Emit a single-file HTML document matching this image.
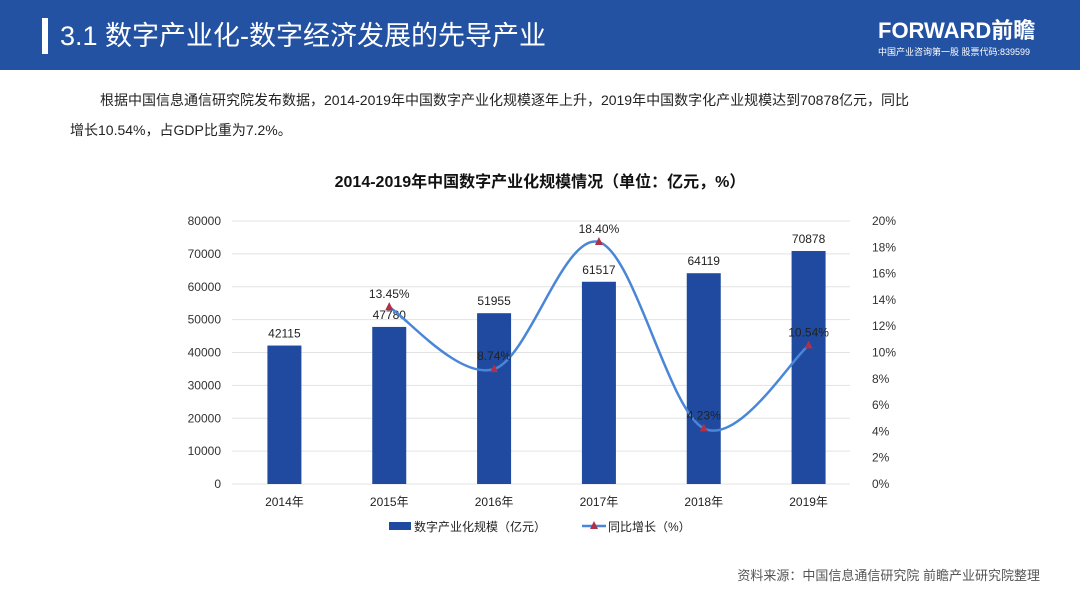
<!DOCTYPE html>
<html><head><meta charset="utf-8"><style>
body{margin:0;width:1080px;height:607px;background:#fff;font-family:"Liberation Sans","Noto Sans CJK SC",sans-serif;overflow:hidden;position:relative}
.hdr{position:absolute;left:0;top:0;width:1080px;height:70px;background:#2452a2}
</style></head><body>
<div class="hdr">
<div style="position:absolute;left:42px;top:18px;width:6px;height:36px;background:#fff"></div>
<div style="position:absolute;left:60px;top:18px;color:#fff;font-size:27px;line-height:36px">3.1 数字产业化-数字经济发展的先导产业</div>
<div style="position:absolute;left:878px;top:18px;color:#fff;font-size:22px;font-weight:bold;line-height:26px">FORWARD前瞻</div>
<div style="position:absolute;left:878px;top:45px;color:#fff;font-size:9px">中国产业咨询第一股 股票代码:839599</div>
</div>
<div style="position:absolute;left:100px;top:90px;font-size:14px;color:#222">根据中国信息通信研究院发布数据，2014-2019年中国数字产业化规模逐年上升，2019年中国数字化产业规模达到70878亿元，同比</div>
<div style="position:absolute;left:70px;top:120px;font-size:14px;color:#222">增长10.54%，占GDP比重为7.2%。</div>
<div style="position:absolute;left:0;width:1080px;top:168px;text-align:center;font-size:16px;font-weight:bold;color:#111">2014-2019年中国数字产业化规模情况（单位：亿元，%）</div>
<svg id="c" width="1080" height="607" style="position:absolute;left:0;top:0"></svg>
<div style="position:absolute;right:40px;top:565px;font-size:13px;color:#555">资料来源：中国信息通信研究院 前瞻产业研究院整理</div>
<script>
const categories=["2014年","2015年","2016年","2017年","2018年","2019年"];
const scaleValues=[42115,47780,51955,61517,64119,70878];
const growthValues=[null,13.45,8.74,18.40,4.23,10.54];
const growthLabels=["","13.45%","8.74%","18.40%","4.23%","10.54%"];
const leftTicks=[0,10000,20000,30000,40000,50000,60000,70000,80000];
const rightTicks=[0,2,4,6,8,10,12,14,16,18,20];
const NS="http://www.w3.org/2000/svg",svg=document.getElementById('c');
const X0=232,X1=861,Y0=484,Y1=221;
const yL=v=>Y0-(v/80000)*(Y0-Y1), yR=v=>Y0-(v/20)*(Y0-Y1);
const step=(X1-X0)/categories.length, xC=i=>X0+step*(i+0.5);
function el(t,a,txt){const e=document.createElementNS(NS,t);for(const k in a)e.setAttribute(k,a[k]);if(txt!=null)e.textContent=txt;svg.appendChild(e);return e;}
leftTicks.forEach(v=>{
 const g=el('line',{x1:X0,x2:850,y1:yL(v),y2:yL(v),stroke:'#e3e3e3','stroke-width':1});
 
 const t=el('text',{x:221,y:yL(v)+4,'text-anchor':'end','font-size':12,fill:'#333'},v);
 
});
rightTicks.forEach(v=>{
 const t=el('text',{x:872,y:yR(v)+4,'font-size':12,fill:'#333'},v+'%');
 
});
categories.forEach((c,i)=>{
 const b=el('rect',{x:xC(i)-17,y:yL(scaleValues[i]),width:34,height:Y0-yL(scaleValues[i]),fill:'#1f4aa0'});
 
 const t=el('text',{x:xC(i),y:yL(scaleValues[i])-8,'text-anchor':'middle','font-size':12,fill:'#222'},scaleValues[i]);
 
 const xl=el('text',{x:xC(i),y:506,'text-anchor':'middle','font-size':12,fill:'#222'},c);
 
});
const pts=[];growthValues.forEach((v,i)=>{if(v!=null)pts.push([xC(i),yR(v),i]);});
let d='M'+pts[0][0]+','+pts[0][1];
for(let k=0;k<pts.length-1;k++){const p0=pts[k-1]||pts[k],p1=pts[k],p2=pts[k+1],p3=pts[k+2]||p2;
 d+=` C${p1[0]+(p2[0]-p0[0])/6},${p1[1]+(p2[1]-p0[1])/6} ${p2[0]-(p3[0]-p1[0])/6},${p2[1]-(p3[1]-p1[1])/6} ${p2[0]},${p2[1]}`;}
const ln=el('path',{d:d,fill:'none',stroke:'#4a86d8','stroke-width':2.5});

pts.forEach(p=>{const[x,y,i]=p;
 const m=el('polygon',{points:`${x},${y-5} ${x-4},${y+3} ${x+4},${y+3}`,fill:'#b0304a'});
 
 const t=el('text',{x:x,y:y-9,'text-anchor':'middle','font-size':12,fill:'#222'},growthLabels[i]);
 
});
const lb=el('rect',{x:389,y:522,width:22,height:8,fill:'#1f4aa0'});

const lt=el('text',{x:414,y:531,'font-size':12,fill:'#222'},'数字产业化规模（亿元）');

const ll=el('line',{x1:582,x2:606,y1:526,y2:526,stroke:'#4a86d8','stroke-width':2.5});

const lm=el('polygon',{points:'594,521 590,529 598,529',fill:'#b0304a'});

const lt2=el('text',{x:608,y:531,'font-size':12,fill:'#222'},'同比增长（%）');

</script>
</body></html>
